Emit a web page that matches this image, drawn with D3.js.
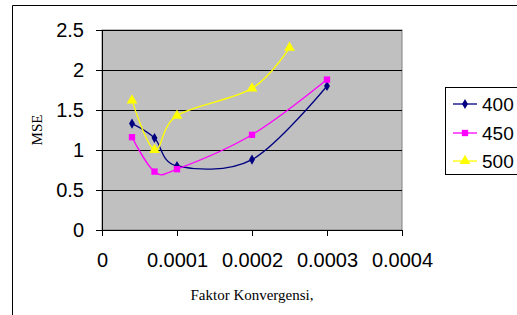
<!DOCTYPE html>
<html>
<head>
<meta charset="utf-8">
<script src="https://cdn.jsdelivr.net/npm/d3@7"></script>
<style>
body { margin: 0; background: #fff; }
svg { display: block; }
</style>
</head>
<body>
<svg id="chart" width="517" height="315"></svg>
<script>
// data
var xVals400 = [0.00004, 0.00007, 0.0001, 0.0002, 0.0003],
	yVals400 = [1.33, 1.15, 0.80, 0.88, 1.80];
var xVals450 = [0.00004, 0.00007, 0.0001, 0.0002, 0.0003],
	yVals450 = [1.16, 0.73, 0.76, 1.19, 1.88];
var xVals500 = [0.00004, 0.00007, 0.0001, 0.0002, 0.00025],
	yVals500 = [1.62, 1.00, 1.43, 1.77, 2.28];
var seriesNames = ["400", "450", "500"];
var xTicks = [0, 0.0001, 0.0002, 0.0003, 0.0004],
	yTicks = [0, 0.5, 1, 1.5, 2, 2.5];

var colors = ["#000080", "#FF00FF", "#FFFF00"],
	symbols = [d3.symbolDiamond, d3.symbolSquare, d3.symbolTriangle],
	symSizes = [30, 40, 50];

var svg = d3.select("#chart");
var pLeft = 102, pRight = 402, pTop = 30, pBottom = 230;

var x = d3.scaleLinear().domain([0, 0.0004]).range([pLeft, pRight]);
var y = d3.scaleLinear().domain([0, 2.5]).range([pBottom, pTop]);

// outer chart border
svg.append("path")
	.attr("d", "M12.5 315 L12.5 5.5 L517 5.5")
	.attr("fill", "none")
	.attr("stroke", "#000");

// plot area
svg.append("rect")
	.attr("x", pLeft).attr("y", pTop)
	.attr("width", pRight - pLeft).attr("height", pBottom - pTop)
	.attr("fill", "#C0C0C0")
	.attr("stroke", "#808080");

// gridlines
svg.append("g").selectAll("line")
	.data(yTicks.slice(1))
	.enter().append("line")
	.attr("x1", pLeft).attr("x2", pRight)
	.attr("y1", function(d) { return Math.round(y(d)) + 0.5; })
	.attr("y2", function(d) { return Math.round(y(d)) + 0.5; })
	.attr("stroke", "#000");

var fmtX = function(d) { return d === 0 ? "0" : d.toFixed(4); };

var xAxis = svg.append("g")
	.attr("transform", "translate(0," + pBottom + ")")
	.call(d3.axisBottom(x).tickValues(xTicks).tickFormat(fmtX).tickSize(6).tickPadding(17));
var yAxis = svg.append("g")
	.attr("transform", "translate(" + pLeft + ",0)")
	.call(d3.axisLeft(y).tickValues(yTicks).tickFormat(d3.format("")).tickSize(6).tickPadding(12));

[xAxis, yAxis].forEach(function(a) {
	a.select(".domain").attr("stroke", "#000");
	a.selectAll(".tick line").attr("stroke", "#000");
	a.selectAll("text")
		.attr("fill", "#000")
		.style("font-family", "Arial, 'Liberation Sans', sans-serif")
		.style("font-size", "20px");
});

// axis titles
svg.append("text")
	.attr("transform", "translate(42,130) rotate(-90)")
	.attr("text-anchor", "middle")
	.style("font-family", "'Times New Roman', 'Liberation Serif', serif")
	.style("font-size", "15px")
	.text("MSE");
svg.append("text")
	.attr("x", 252).attr("y", 300)
	.attr("text-anchor", "middle")
	.style("font-family", "'Times New Roman', 'Liberation Serif', serif")
	.style("font-size", "15px")
	.text("Faktor Konvergensi,");

// series
var allX = [xVals400, xVals450, xVals500],
	allY = [yVals400, yVals450, yVals500];

var line = d3.line()
	.x(function(d) { return x(d[0]); })
	.y(function(d) { return y(d[1]); })
	.curve(d3.curveCatmullRom.alpha(0));

for (var i = 0; i < 3; i++) {
	var pts = d3.zip(allX[i], allY[i]);
	svg.append("path")
		.datum(pts)
		.attr("d", line)
		.attr("fill", "none")
		.attr("stroke", colors[i])
		.attr("stroke-width", 1.3);
	svg.append("g").selectAll("path")
		.data(pts)
		.enter().append("path")
		.attr("transform", function(d) { return "translate(" + x(d[0]) + "," + y(d[1]) + ")"; })
		.attr("d", d3.symbol().type(symbols[i]).size(symSizes[i]))
		.attr("fill", colors[i]);
}

// legend
var lg = svg.append("g");
lg.append("rect")
	.attr("x", 445.5).attr("y", 87.5)
	.attr("width", 80).attr("height", 87)
	.attr("fill", "#fff")
	.attr("stroke", "#000");
var ly = [104, 133, 161];
seriesNames.forEach(function(n, i) {
	lg.append("line")
		.attr("x1", 453).attr("x2", 477)
		.attr("y1", ly[i]).attr("y2", ly[i])
		.attr("stroke", colors[i]).attr("stroke-width", 1.3);
	lg.append("path")
		.attr("transform", "translate(465," + ly[i] + ")")
		.attr("d", d3.symbol().type(symbols[i]).size(symSizes[i]))
		.attr("fill", colors[i]);
	lg.append("text")
		.attr("x", 482).attr("y", ly[i])
		.attr("dy", "0.35em")
		.style("font-family", "Arial, 'Liberation Sans', sans-serif")
		.style("font-size", "19px")
		.text(n);
});
</script>
</body>
</html>
